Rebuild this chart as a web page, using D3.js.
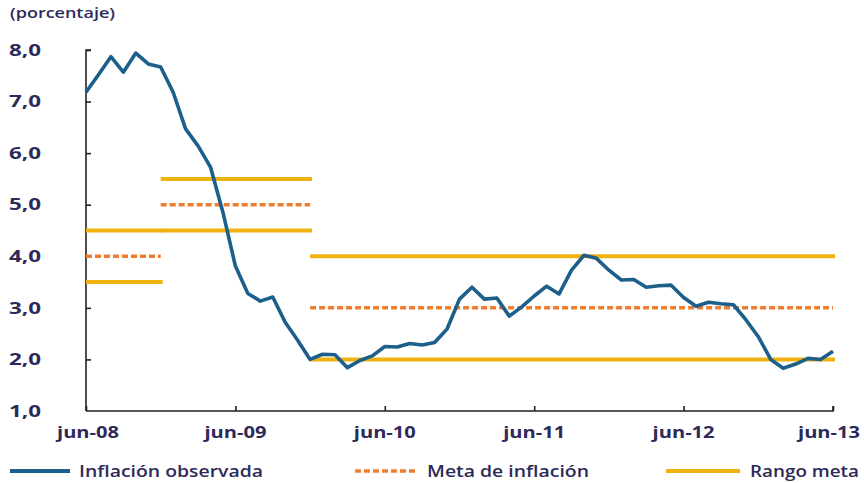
<!DOCTYPE html>
<html><head><meta charset="utf-8">
<script src="https://cdn.jsdelivr.net/npm/d3@7"></script>
<style>body{margin:0;background:#fff}svg{display:block}text{font-family:"Open Sans",sans-serif;fill:#2d2a5a}</style>
</head><body><svg id="c" width="864" height="483"></svg>
<script>
// monthly observed inflation, jun-08 .. jun-13
const inflation = [7.18,7.52,7.87,7.57,7.94,7.73,7.67,7.18,6.47,6.14,5.73,4.85,3.81,3.28,3.13,3.21,2.72,2.37,2.00,
  2.10,2.09,1.84,1.98,2.07,2.25,2.24,2.31,2.28,2.33,2.59,3.17,3.40,3.17,3.19,2.84,3.02,3.23,3.42,3.27,3.73,4.02,3.96,3.73,
  3.54,3.55,3.40,3.43,3.44,3.20,3.03,3.11,3.08,3.06,2.77,2.44,2.00,1.83,1.91,2.02,2.00,2.16];
// target periods: [startMonth, endMonth] as month index from jun-08
const periodStart = [0, 6, 18];
const periodEnd = [6, 18, 60];
const targetVals = [4.0, 5.0, 3.0];
const rangeLow = [3.5, 4.5, 2.0];
const rangeHigh = [4.5, 5.5, 4.0];
const xTickMonths = [0,12,24,36,48,60];
const xTickLabels = ["jun-08","jun-09","jun-10","jun-11","jun-12","jun-13"];
const yTicks = [1,2,3,4,5,6,7,8];
const legendLabels = ["Inflación observada","Meta de inflación","Rango meta"];

const C_BLUE="#1d5f8b", C_ORANGE="#ee7d31", C_GOLD="#efb20f", C_AX="#222";
const svg=d3.select("#c");
const x=d3.scaleLinear().domain([0,60]).range([86,833]);
const y=d3.scaleLinear().domain([1,8]).range([411,50]);

svg.append("text").attr("x",10).attr("y",18).attr("font-size",15).attr("font-weight",600)
  .attr("textLength",105).attr("lengthAdjust","spacingAndGlyphs").text("(porcentaje)");

// y axis
const ya=svg.append("g").attr("transform","translate(86,0)")
  .call(d3.axisRight(y).tickValues(yTicks.filter(d=>d>1)).tickSize(5).tickFormat(""));
ya.select(".domain").attr("stroke",C_AX).attr("stroke-width",1.6).attr("d","M5,50H0V411");
ya.selectAll(".tick line").attr("stroke",C_AX).attr("stroke-width",1.6);
svg.append("g").selectAll("text").data(yTicks).join("text")
  .attr("x",9).attr("y",d=>y(d)).attr("dy","0.36em").attr("font-size",16).attr("font-weight",700)
  .attr("textLength",32).attr("lengthAdjust","spacingAndGlyphs")
  .text(d=>d3.format(".1f")(d).replace(".",","));

// x axis
const xa=svg.append("g").attr("transform","translate(0,411)")
  .call(d3.axisTop(x).tickValues(xTickMonths).tickSize(5).tickFormat(""));
xa.select(".domain").attr("stroke",C_AX).attr("stroke-width",1.6).attr("d","M86,0H833V-5");
xa.selectAll(".tick line").attr("stroke",C_AX).attr("stroke-width",1.6);
svg.append("g").selectAll("text").data(xTickMonths).join("text")
  .attr("x",(d,i)=>x(d)+(i===0?2:i===xTickMonths.length-1?-4:0)).attr("y",438).attr("text-anchor","middle")
  .attr("font-size",16).attr("font-weight",700)
  .attr("textLength",62).attr("lengthAdjust","spacingAndGlyphs")
  .text((d,i)=>xTickLabels[i]);

// ranges
const idx=d3.range(periodStart.length);
const g=svg.append("g");
[rangeLow,rangeHigh].forEach(arr=>{
  g.selectAll(null).data(idx).join("line")
   .attr("x1",i=>x(periodStart[i])).attr("x2",i=>x(periodEnd[i])+2)
   .attr("y1",i=>y(arr[i])).attr("y2",i=>y(arr[i]))
   .attr("stroke",C_GOLD).attr("stroke-width",4);
});
g.selectAll(null).data(idx).join("line")
 .attr("x1",i=>x(periodStart[i])).attr("x2",i=>x(periodEnd[i]))
 .attr("y1",i=>y(targetVals[i])).attr("y2",i=>y(targetVals[i]))
 .attr("stroke",C_ORANGE).attr("stroke-width",3.5).attr("stroke-dasharray","6,3");

// inflation line
svg.append("path").datum(inflation)
  .attr("d",d3.line().x((d,i)=>x(i)).y(d=>y(d)))
  .attr("fill","none").attr("stroke",C_BLUE).attr("stroke-width",3.6).attr("stroke-linejoin","round");

// legend
const leg=[{x1:10,x2:70,tx:79,tw:184,c:C_BLUE,dash:null,w:4},
           {x1:355,x2:416,tx:427,tw:162,c:C_ORANGE,dash:"6,3",w:3.5},
           {x1:666,x2:740,tx:750,tw:109,c:C_GOLD,dash:null,w:4}];
leg.forEach((l,i)=>{
  svg.append("line").attr("x1",l.x1).attr("x2",l.x2).attr("y1",471).attr("y2",471)
    .attr("stroke",l.c).attr("stroke-width",l.w).attr("stroke-dasharray",l.dash);
  svg.append("text").attr("x",l.tx).attr("y",477).attr("font-size",17).attr("font-weight",600)
    .attr("textLength",l.tw).attr("lengthAdjust","spacingAndGlyphs").text(legendLabels[i]);
});
</script></body></html>
